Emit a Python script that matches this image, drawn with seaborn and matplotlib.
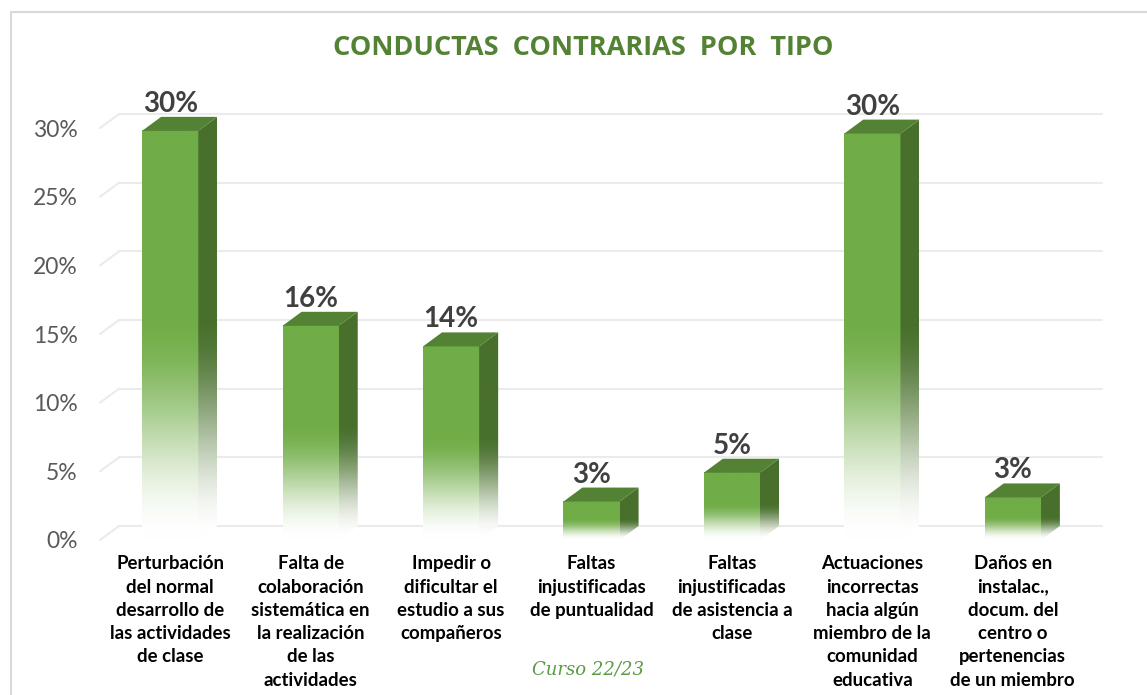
import matplotlib
matplotlib.use("Agg")
import matplotlib.pyplot as plt
import numpy as np
import pandas as pd
import seaborn as sns
from matplotlib.patches import Polygon, Rectangle
from matplotlib.colors import to_rgb

categorias = [
    "Perturbación\ndel normal\ndesarrollo de\nlas actividades\nde clase",
    "Falta de\ncolaboración\nsistemática en\nla realización\nde las\nactividades",
    "Impedir o\ndificultar el\nestudio a sus\ncompañeros",
    "Faltas\ninjustificadas\nde puntualidad",
    "Faltas\ninjustificadas\nde asistencia a\nclase",
    "Actuaciones\nincorrectas\nhacia algún\nmiembro de la\ncomunidad\neducativa",
    "Daños en\ninstalac.,\ndocum. del\ncentro o\npertenencias\nde un miembro",
]
porcentajes = [29.8, 15.6, 14.1, 2.8, 4.9, 29.6, 3.1]
ticks_y = [0, 5, 10, 15, 20, 25, 30]

verde = "#70ad47"
verde_top = "#548235"
verde_lado = "#48702c"

sns.set_theme(style="white")
plt.rcParams["font.family"] = ["Lato", "DejaVu Sans"]

W, H = 1147, 695
fig = plt.figure(figsize=(W / 100, H / 100), dpi=100)
# plot area in pixels (front plane)
left, right, base, ymax = 100, 1083, 540, 32
px_per_pct = 13.73
top = base - ymax * px_per_pct
ax = fig.add_axes([left / W, (H - base) / H, (right - left) / W, (base - top) / H])

data = pd.DataFrame({"categoria": categorias, "porcentaje": porcentajes})
sns.barplot(data=data, x="categoria", y="porcentaje", color=verde, width=0.4, ax=ax)

ax.set_xlim(-0.5, len(categorias) - 0.5)
ax.set_ylim(0, ymax)

# 3D depth in data units
dx = 19 / ((right - left) / len(categorias))
dy = 14 / px_per_pct

# back-wall gridlines
x0, x1 = ax.get_xlim()
for t in ticks_y:
    ax.plot([x0 + dx, x1 + dx], [t + dy, t + dy], color="#ebebeb", lw=1.5, zorder=0.5, clip_on=False)
    ax.plot([x0, x0 + dx], [t, t + dy], color="#ebebeb", lw=1.5, zorder=0.5, clip_on=False)


def gradiente(color, h, y_top, n=256):
    c = np.array(to_rgb(color))
    ys = np.linspace(0, y_top, n)
    t = np.clip(ys / h / 0.55, 0, 1)
    w = 3 * t ** 2 - 2 * t ** 3
    rgb = (1 - w[:, None]) * np.ones(3) + w[:, None] * c
    return rgb[:, None, :]


for p, val in zip(ax.patches, porcentajes):
    bx0 = p.get_x()
    bx1 = bx0 + p.get_width()
    h = p.get_height()
    p.set_facecolor("none")
    p.set_edgecolor("none")

    # front face
    ax.imshow(gradiente(verde, h, h), extent=[bx0, bx1, 0, h], origin="lower",
              aspect="auto", zorder=2, interpolation="bilinear")
    # side face
    lado = Polygon([(bx1, 0), (bx1 + dx, dy), (bx1 + dx, h + dy), (bx1, h)],
                   closed=True, facecolor="none", edgecolor="none")
    ax.add_patch(lado)
    im = ax.imshow(gradiente(verde_lado, h, h + dy), extent=[bx1, bx1 + dx, 0, h + dy],
                   origin="lower", aspect="auto", zorder=2, interpolation="bilinear")
    im.set_clip_path(lado)
    # top face
    ax.add_patch(Polygon([(bx0, h), (bx1, h), (bx1 + dx, h + dy), (bx0 + dx, h + dy)],
                         closed=True, facecolor=verde_top, edgecolor="none", zorder=3))
    # data label
    ax.annotate(f"{val:.0f}%", xy=((bx0 + bx1) / 2, h + dy), xytext=(0, 0),
                textcoords="offset points", ha="center", va="bottom",
                fontsize=20, fontweight="bold", color="#404040", zorder=4,
                annotation_clip=False)

ax.set_xlim(x0, x1)
ax.set_ylim(0, ymax)

ax.set_yticks(ticks_y)
ax.set_yticklabels([f"{t}%" for t in ticks_y], color="#595959", fontsize=16.5)
ax.tick_params(axis="y", length=0, pad=16)
ax.tick_params(axis="x", length=0, pad=11)
for lab in ax.get_xticklabels():
    lab.set_fontweight("bold")
    lab.set_fontsize(13.4)
    lab.set_color("black")
    lab.set_linespacing(1.45)
    lab.set_verticalalignment("top")
ax.set_xlabel("")
ax.set_ylabel("")
sns.despine(ax=ax, left=True, bottom=True)
ax.grid(False)

fig.text(583 / W, 1 - 48 / H, "CONDUCTAS  CONTRARIAS  POR  TIPO", ha="center", va="center",
         fontsize=19.5, fontweight="bold", color="#548235", family=["Open Sans", "DejaVu Sans"])
fig.text(588 / W, 1 - 670 / H, "Curso 22/23", ha="center", va="center",
         fontsize=13, color="#5b9a44", family="DejaVu Serif", style="italic")

fig.add_artist(Rectangle((11 / W, -0.05), 1.1, 1 - 11.5 / H + 0.05, transform=fig.transFigure,
                         fill=False, edgecolor="#d9d9d9", lw=1.5))

fig.savefig("out.png", dpi=100)
